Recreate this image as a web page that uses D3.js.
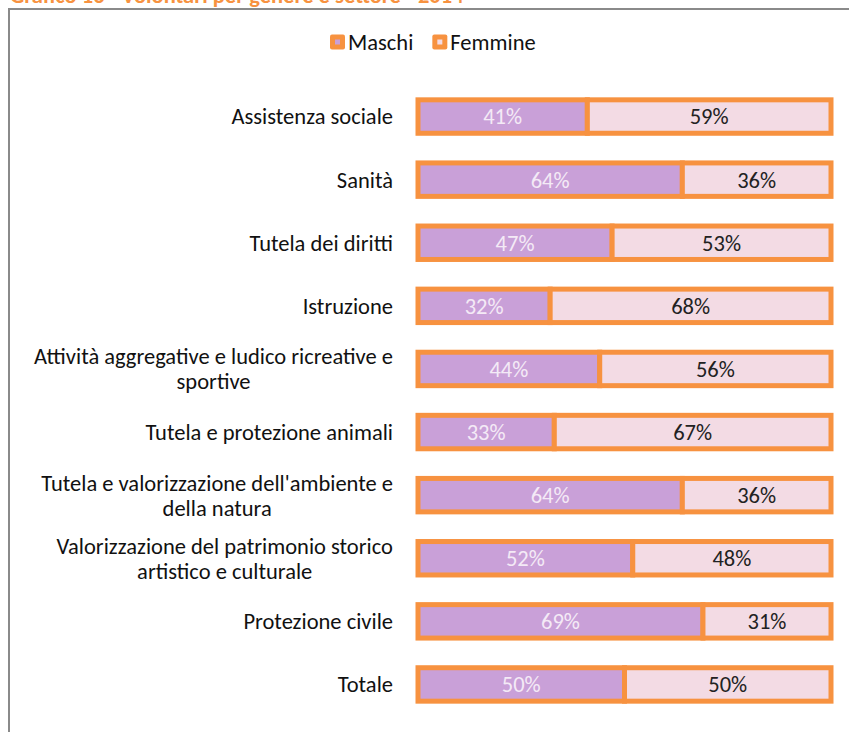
<!DOCTYPE html>
<html>
<head>
<meta charset="utf-8">
<script src="https://cdn.jsdelivr.net/npm/d3@7"></script>
<style>
  body { margin: 0; background: #fff; }
  svg { display: block; font-family: Carlito, Lato, "Open Sans", sans-serif; }
</style>
</head>
<body>
<div id="chart"></div>
<script>
// volontari per genere e settore
var categories = [
  "Assistenza sociale",
  "Sanità",
  "Tutela dei diritti",
  "Istruzione",
  "Attività aggregative e ludico ricreative e|sportive",
  "Tutela e protezione animali",
  "Tutela e valorizzazione dell'ambiente e|della natura",
  "Valorizzazione del patrimonio storico|artistico e culturale",
  "Protezione civile",
  "Totale"
];
var maschi  = [41, 64, 47, 32, 44, 33, 64, 52, 69, 50];
var femmine = [59, 36, 53, 68, 56, 67, 36, 48, 31, 50];
var seriesNames = ["Maschi", "Femmine"];

var W = 849, H = 732;
var orange = "#f79240",
    colM = "#c9a0d8",
    colF = "#f3dbe4";
var fs = "22.5px";

var svg = d3.select("#chart").append("svg")
  .attr("width", W).attr("height", H);

// title, cut off at the top like in the source
svg.append("text")
  .attr("x", 10).attr("y", 3)
  .attr("fill", orange)
  .style("font-size", fs)
  .style("font-weight", "bold")
  .text("Grafico 13 - Volontari per genere e settore - 2014");

// chart frame
svg.append("rect")
  .attr("x", 9).attr("y", 9)
  .attr("width", W).attr("height", H)
  .attr("fill", "white")
  .attr("stroke", "#8a8a8a")
  .attr("stroke-width", 2);

var data = categories.map(function(c, i) {
  return {cat: c, m: maschi[i], f: femmine[i]};
});

var x = d3.scaleLinear().domain([0, 100]).range([418, 831]);
var y = d3.scaleBand().domain(categories).range([85, 716])
  .paddingInner(0.47).paddingOuter(0.235);

var rows = svg.selectAll(".row")
  .data(data)
  .enter().append("g")
  .attr("class", "row")
  .attr("transform", function(d) { return "translate(0," + y(d.cat) + ")"; });

var bh = y.bandwidth();

// maschi segment
rows.append("rect")
  .attr("x", x(0))
  .attr("width", function(d) { return x(d.m) - x(0); })
  .attr("height", bh)
  .attr("fill", colM)
  .attr("stroke", orange)
  .attr("stroke-width", 5);

// femmine segment
rows.append("rect")
  .attr("x", function(d) { return x(d.m); })
  .attr("width", function(d) { return x(d.m + d.f) - x(d.m); })
  .attr("height", bh)
  .attr("fill", colF)
  .attr("stroke", orange)
  .attr("stroke-width", 5);

// value labels
rows.append("text")
  .attr("x", function(d) { return (x(0) + x(d.m)) / 2; })
  .attr("y", bh / 2)
  .attr("dy", "0.35em")
  .attr("text-anchor", "middle")
  .attr("fill", "#f4eaf6")
  .style("font-size", fs)
  .text(function(d) { return d.m + "%"; });

rows.append("text")
  .attr("x", function(d) { return (x(d.m) + x(d.m + d.f)) / 2; })
  .attr("y", bh / 2)
  .attr("dy", "0.35em")
  .attr("text-anchor", "middle")
  .attr("fill", "#222")
  .style("font-size", fs)
  .text(function(d) { return d.f + "%"; });

// category labels: block right aligned, lines centred inside it
rows.each(function(d) {
  var g = d3.select(this);
  var lines = d.cat.split("|");
  var t = g.append("text")
    .attr("fill", "#111")
    .style("font-size", fs)
    .attr("text-anchor", "middle");
  var lh = 25;
  lines.forEach(function(l, i) {
    t.append("tspan")
      .attr("x", 0)
      .attr("y", bh / 2 + (i - (lines.length - 1) / 2) * lh)
      .attr("dy", "0.35em")
      .text(l);
  });
  var wMax = t.node().getBBox().width;
  t.attr("transform", "translate(" + (393 - wMax / 2) + ",0)");
});

// legend
var legend = svg.append("g").attr("transform", "translate(330,42)");
var lx = 0;
seriesNames.forEach(function(name, i) {
  var item = legend.append("g").attr("transform", "translate(" + lx + ",0)");
  item.append("rect")
    .attr("x", 0).attr("y", -7.5)
    .attr("width", 15).attr("height", 15)
    .attr("rx", 2)
    .attr("fill", orange);
  item.append("rect")
    .attr("x", 5).attr("y", -2.5)
    .attr("width", 5).attr("height", 5)
    .attr("fill", i === 0 ? colM : colF);
  var txt = item.append("text")
    .attr("x", 18).attr("dy", "0.35em")
    .attr("fill", "#111")
    .style("font-size", fs)
    .text(name);
  lx += 18 + txt.node().getComputedTextLength() + 19;
});
</script>
</body>
</html>
